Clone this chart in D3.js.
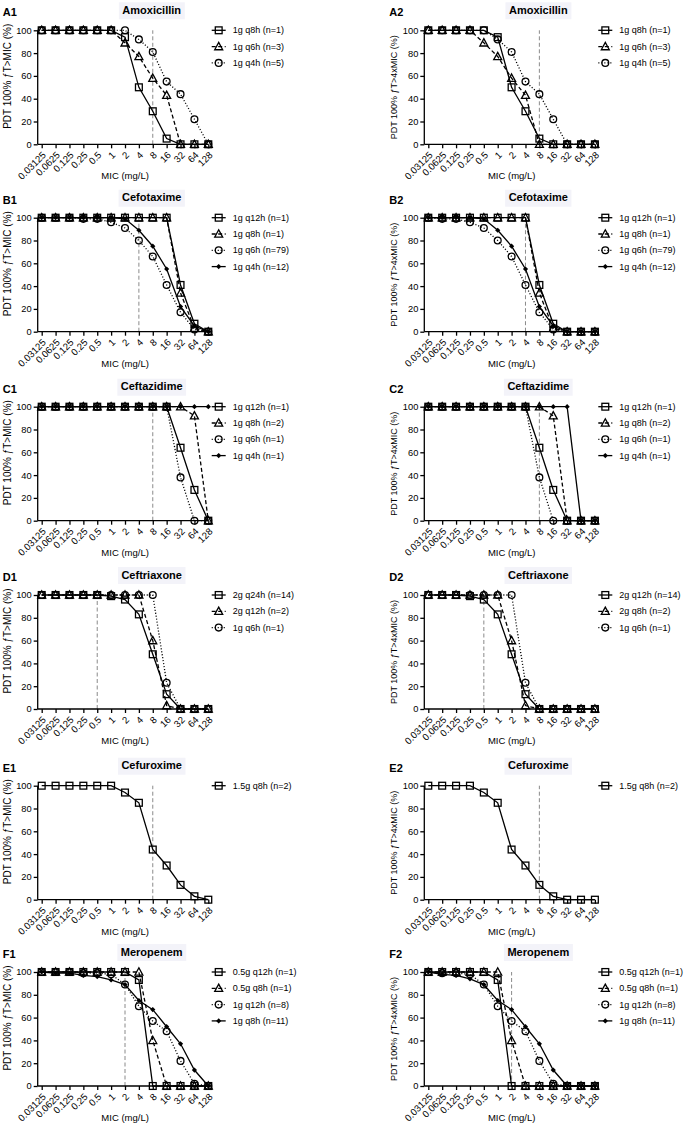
<!DOCTYPE html>
<html><head><meta charset="utf-8">
<script src="https://cdn.jsdelivr.net/npm/d3@7"></script>
<style>
body{margin:0;background:#fff}
text{font-family:Arial,"Liberation Sans",Helvetica,sans-serif;fill:#000}
</style>
</head><body>
<svg id="c" width="685" height="1125"></svg>
<script>
// ---------- data ----------
const categories = ["0.03125","0.0625","0.125","0.25","0.5","1","2","4","8","16","32","64","128"];
const yTickValues = [0,20,40,60,80,100];
const panelLabels = ["A1","A2","B1","B2","C1","C2","D1","D2","E1","E2","F1","F2"];
const drugTitles = ["Amoxicillin","Cefotaxime","Ceftazidime","Ceftriaxone","Cefuroxime","Meropenem"];
const yTitles = ["PDT 100% \u0192T>MIC  (%)","PDT 100% \u0192T>4xMIC  (%)"];
const xTitle = "MIC (mg/L)";
const breakpointMIC = ["8","4","8","0.5","8","2"];

const legendA = ["1g q8h (n=1)","1g q6h (n=3)","1g q4h (n=5)"];
const legendB = ["1g q12h (n=1)","1g q8h (n=1)","1g q6h (n=79)","1g q4h (n=12)"];
const legendC = ["1g q12h (n=1)","1g q8h (n=2)","1g q6h (n=1)","1g q4h (n=1)"];
const legendD1 = ["2g q24h (n=14)","2g q12h (n=2)","1g q6h (n=1)"];
const legendD2 = ["2g q12h (n=14)","2g q8h (n=2)","1g q6h (n=1)"];
const legendE = ["1.5g q8h (n=2)"];
const legendF = ["0.5g q12h (n=1)","0.5g q8h (n=1)","1g q12h (n=8)","1g q8h (n=11)"];

// A1 Amoxicillin fT>MIC
const A1_s1 = [100,100,100,100,100,100,94,50,29,5,0,0,0];
const A1_s2 = [100,100,100,100,100,100,89,77,58,43,0,0,0];
const A1_s3 = [100,100,100,100,100,100,100,92,81,55,44,22,0];
// A2 Amoxicillin fT>4xMIC
const A2_s1 = [100,100,100,100,100,94,50,29,5,0,0,0,0];
const A2_s2 = [100,100,100,100,89,77,58,43,0,0,0,0,0];
const A2_s3 = [100,100,100,100,100,92,81,55,44,22,0,0,0];
// B1 Cefotaxime
const B1_s1 = [100,100,100,100,100,100,100,100,100,100,41,7,0];
const B1_s2 = [100,100,100,100,100,100,100,100,100,100,34,3,0];
const B1_s3 = [100,100,100,99,99,96,91,80,66,41,17,2,0];
const B1_s4 = [100,100,100,100,100,100,99,89,75,55,22,5,0];
// B2
const B2_s1 = [100,100,100,100,100,100,100,100,41,7,0,0,0];
const B2_s2 = [100,100,100,100,100,100,100,100,34,3,0,0,0];
const B2_s3 = [100,99,99,96,91,80,66,41,17,2,0,0,0];
const B2_s4 = [100,100,100,100,99,89,75,55,22,5,0,0,0];
// C1 Ceftazidime
const C1_s1 = [100,100,100,100,100,100,100,100,100,100,64,27,0];
const C1_s2 = [100,100,100,100,100,100,100,100,100,100,100,92,0];
const C1_s3 = [100,100,100,100,100,100,100,100,100,100,38,0,0];
const C1_s4 = [100,100,100,100,100,100,100,100,100,100,100,100,100];
// C2
const C2_s1 = [100,100,100,100,100,100,100,100,64,27,0,0,0];
const C2_s2 = [100,100,100,100,100,100,100,100,100,92,0,0,0];
const C2_s3 = [100,100,100,100,100,100,100,100,38,0,0,0,0];
const C2_s4 = [100,100,100,100,100,100,100,100,100,100,100,0,0];
// D1 Ceftriaxone
const D1_s1 = [100,100,100,100,100,99,96,83,48,13,0,0,0];
const D1_s2 = [100,100,100,100,100,100,100,100,60,3,0,0,0];
const D1_s3 = [100,100,100,100,100,100,100,100,100,23,0,0,0];
// D2
const D2_s1 = [100,100,100,99,96,83,48,13,0,0,0,0,0];
const D2_s2 = [100,100,100,100,100,100,60,3,0,0,0,0,0];
const D2_s3 = [100,100,100,100,100,100,100,23,0,0,0,0,0];
// E1 Cefuroxime
const E1_s1 = [100,100,100,100,100,100,94,85,44,30,13,3,0];
// E2
const E2_s1 = [100,100,100,100,94,85,44,30,13,3,0,0,0];
// F1 Meropenem
const F1_s1 = [100,100,100,100,100,100,100,93,0,0,0,0,0];
const F1_s2 = [100,100,100,100,100,100,100,100,40,0,0,0,0];
const F1_s3 = [100,100,100,99,99,98,89,70,57,48,22,2,0];
const F1_s4 = [100,99,99,97,96,93,89,75,67,52,37,14,0];
// F2
const F2_s1 = [100,100,100,100,100,93,0,0,0,0,0,0,0];
const F2_s2 = [100,100,100,100,100,100,40,0,0,0,0,0,0];
const F2_s3 = [100,99,99,98,89,70,57,48,22,2,0,0,0];
const F2_s4 = [100,98,97,94,89,75,67,52,37,14,0,0,0];

// ---------- assemble panels ----------
const panels = [
  {series:[A1_s1,A1_s2,A1_s3], legend:legendA},
  {series:[A2_s1,A2_s2,A2_s3], legend:legendA},
  {series:[B1_s1,B1_s2,B1_s3,B1_s4], legend:legendB},
  {series:[B2_s1,B2_s2,B2_s3,B2_s4], legend:legendB},
  {series:[C1_s1,C1_s2,C1_s3,C1_s4], legend:legendC},
  {series:[C2_s1,C2_s2,C2_s3,C2_s4], legend:legendC},
  {series:[D1_s1,D1_s2,D1_s3], legend:legendD1},
  {series:[D2_s1,D2_s2,D2_s3], legend:legendD2},
  {series:[E1_s1], legend:legendE},
  {series:[E2_s1], legend:legendE},
  {series:[F1_s1,F1_s2,F1_s3,F1_s4], legend:legendF},
  {series:[F2_s1,F2_s2,F2_s3,F2_s4], legend:legendF}
];

// ---------- layout / styles ----------
const rowTops = [30.3, 217.7, 406.7, 595, 785.7, 972];
const colOffsets = [0, 386.6];
const plotH = 114;
const symbolTypes = ["square","triangle","circle","diamond"];
const dashes = [null, "4,2.5", "1.1,1.9", null];
const yTitleSize = ["10px","9px"];
const yTitleCenter = [46, 57];

const svg = d3.select("#c");

function drawSymbol(g, type, x, y) {
  if (type === "square") {
    g.append("rect").attr("x", x-3.4).attr("y", y-3.4).attr("width", 6.8).attr("height", 6.8)
      .attr("fill","none").attr("stroke","#000").attr("stroke-width",1.3);
  } else if (type === "triangle") {
    const s = 4.2;
    g.append("path").attr("d", `M${x},${y-s}L${x+s*0.95},${y+s*0.75}L${x-s*0.95},${y+s*0.75}Z`)
      .attr("fill","none").attr("stroke","#000").attr("stroke-width",1.3);
  } else if (type === "circle") {
    g.append("circle").attr("cx", x).attr("cy", y).attr("r", 3.4)
      .attr("fill","none").attr("stroke","#000").attr("stroke-width",1.3);
  } else {
    const s = 2.6;
    g.append("path").attr("d", `M${x},${y-s}L${x+s},${y}L${x},${y+s}L${x-s},${y}Z`)
      .attr("fill","#000");
  }
}

panels.forEach((p, i) => {
  const row = Math.floor(i/2), col = i%2;
  const off = colOffsets[col];
  const top = rowTops[row];
  const bottom = top + plotH;
  const axisX = 37.7 + off;
  const x = d3.scalePoint().domain(categories).range([41.7+off, 208.3+off]);
  const y = d3.scaleLinear().domain([0,100]).range([bottom, top]);
  const g = svg.append("g");

  // title with faint box
  const tx = axisX + 114;
  const title = drugTitles[row];
  const tt = g.append("text").attr("x", tx).attr("y", top-16.5).attr("text-anchor","middle")
    .attr("font-size","11px").attr("font-weight","bold").text(title);
  const bb = tt.node().getBBox();
  g.insert("rect","text").attr("x", bb.x-3.5).attr("y", top-28).attr("width", bb.width+7).attr("height", 17)
    .attr("fill","#f3f3f9");
  // panel label
  g.append("text").attr("x", axisX-35).attr("y", top-14).attr("font-size","11px")
    .attr("font-weight","bold").text(panelLabels[i]);

  // reference dashed line
  g.append("line").attr("x1", x(breakpointMIC[row])).attr("x2", x(breakpointMIC[row]))
    .attr("y1", y(0)).attr("y2", y(100)).attr("stroke","#8a8a8a").attr("stroke-width",1)
    .attr("stroke-dasharray","4,2.5");

  // y axis
  const ya = g.append("g").attr("transform", `translate(${axisX},0)`)
    .call(d3.axisLeft(y).tickValues(yTickValues).tickSize(4).tickPadding(2).tickFormat(d3.format("d")));
  ya.select(".domain").attr("stroke","#000").attr("stroke-width",1.3).attr("d", `M0,${y(0)}V${y(100)}`);
  ya.selectAll(".tick line").attr("stroke","#000").attr("stroke-width",1.3);
  ya.selectAll(".tick text").attr("font-size","9.3px").attr("font-family","Arial,'Liberation Sans',sans-serif");

  // x axis
  const xa = g.append("g").attr("transform", `translate(0,${bottom})`)
    .call(d3.axisBottom(x).tickSize(4).tickSizeOuter(0));
  xa.select(".domain").attr("stroke","#000").attr("stroke-width",1.3)
    .attr("d", `M${axisX},0H${x("128")}`);
  xa.selectAll(".tick line").attr("stroke","#000").attr("stroke-width",1.3);
  xa.selectAll(".tick text").attr("font-size","9.6px").attr("font-family","Arial,'Liberation Sans',sans-serif")
    .attr("text-anchor","end").attr("y",0).attr("dy","0.35em")
    .attr("transform","translate(2,9) rotate(-45)");

  // axis titles
  g.append("text").attr("x", x("1")+14).attr("y", bottom+35).attr("text-anchor","middle")
    .attr("font-size","9.5px").text(xTitle);
  g.append("text").attr("transform", `translate(${axisX-27},${top+yTitleCenter[col]}) rotate(-90)`)
    .attr("text-anchor","middle").attr("font-size",yTitleSize[col]).text(yTitles[col]);

  // series
  const line = d3.line().x((d,k)=>x(categories[k])).y(d=>y(d));
  const nS = p.series.length;
  for (let s = nS-1; s >= 0; s--) {
    const vals = p.series[s];
    g.append("path").attr("d", line(vals)).attr("fill","none").attr("stroke","#000")
      .attr("stroke-width",1.3).attr("stroke-dasharray", dashes[s]);
    vals.forEach((v,k)=> drawSymbol(g, symbolTypes[s], x(categories[k]), y(v)));
  }

  // legend
  p.legend.forEach((lab, s) => {
    const ly = top + s*16.3;
    const cx = axisX + 181;
    g.append("line").attr("x1", cx-7).attr("x2", cx+7).attr("y1", ly).attr("y2", ly)
      .attr("stroke","#000").attr("stroke-width",1.3).attr("stroke-dasharray", dashes[s]);
    drawSymbol(g, symbolTypes[s], cx, ly);
    g.append("text").attr("x", axisX+195).attr("y", ly).attr("dy","0.35em")
      .attr("font-size","9px").text(lab);
  });
});
</script>
</body></html>
